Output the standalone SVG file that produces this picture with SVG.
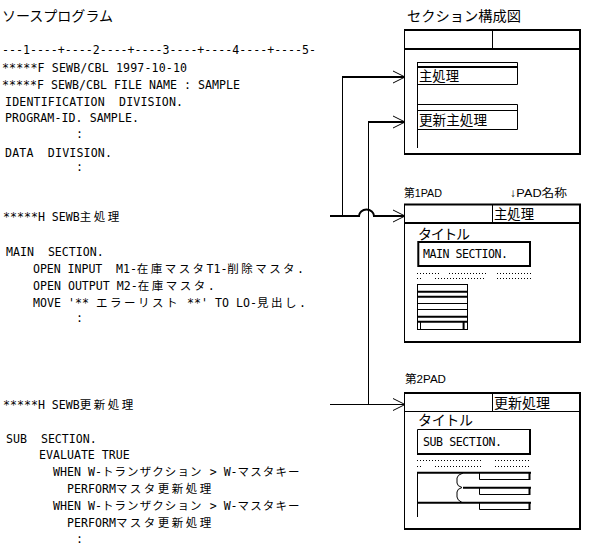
<svg xmlns="http://www.w3.org/2000/svg" width="597" height="559" viewBox="0 0 597 559">
<style>
text{font-family:"DejaVu Sans Mono","Noto Sans CJK JP",monospace;fill:#000;white-space:pre}
.c{font-size:11.6px}
.j{font-family:"Noto Sans CJK JP",sans-serif;font-size:11.5px;letter-spacing:2.5px}
.j2{font-family:"Noto Sans CJK JP",sans-serif;font-size:11.5px;letter-spacing:1.1px}
.t{font-family:"Noto Sans CJK JP",sans-serif;font-size:14px}
.s{font-family:"Liberation Sans","Noto Sans CJK JP",sans-serif;font-size:11.5px}
.ln{stroke:#000;fill:none;stroke-width:1}
.tk{stroke:#000;fill:none;stroke-width:2}
.dot{stroke:#000;stroke-width:1;stroke-dasharray:1 2;fill:none}
</style>
<defs>
<marker id="arr" markerUnits="userSpaceOnUse" markerWidth="14" markerHeight="14" viewBox="0 0 14 14" refX="12.5" refY="7" orient="auto">
<path d="M0.5,1 L12.5,7 L0.5,13" fill="none" stroke="#000" stroke-width="1"/>
</marker>
</defs>
<rect width="597" height="559" fill="#fff"/>

<g id="source-program">
<text class="t" x="2" y="21" textLength="111" lengthAdjust="spacingAndGlyphs">ソースプログラム</text>
<text class="c" x="2" y="54" textLength="314" lengthAdjust="spacing">---1----+----2----+----3----+----4----+----5-</text>
<text class="c" x="2" y="72" textLength="185" lengthAdjust="spacing">*****F SEWB/CBL 1997-10-10</text>
<text class="c" x="2" y="89" textLength="238" lengthAdjust="spacing">*****F SEWB/CBL FILE NAME : SAMPLE</text>
<text class="c" x="5" y="106" textLength="178" lengthAdjust="spacing">IDENTIFICATION  DIVISION.</text>
<text class="c" x="5" y="122" textLength="134" lengthAdjust="spacing">PROGRAM-ID. SAMPLE.</text>
<text class="c" x="76" y="138">:</text>
<text class="c" x="5" y="157" textLength="107" lengthAdjust="spacing">DATA  DIVISION.</text>
<text class="c" x="76" y="171">:</text>
</g>

<g id="src-main">
<text class="c" x="3" y="221">*****H SEWB<tspan class="j">主処理</tspan></text>
<text class="c" x="6" y="256">MAIN  SECTION.</text>
<text class="c" x="33" y="273" textLength="271" lengthAdjust="spacing">OPEN INPUT  M1-<tspan class="j">在庫マスタ</tspan>T1-<tspan class="j">削除マスタ</tspan>.</text>
<text class="c" x="33" y="290">OPEN OUTPUT M2-<tspan class="j">在庫マスタ</tspan>.</text>
<text class="c" x="33" y="307" textLength="273" lengthAdjust="spacing">MOVE '** <tspan class="j">エラーリスト</tspan> **' TO LO-<tspan class="j">見出し</tspan>.</text>
<text class="c" x="76" y="322">:</text>
</g>

<g id="src-sub">
<text class="c" x="3" y="409">*****H SEWB<tspan class="j">更新処理</tspan></text>
<text class="c" x="6" y="443">SUB  SECTION.</text>
<text class="c" x="39" y="459">EVALUATE TRUE</text>
<text class="c" x="53" y="476">WHEN W-<tspan class="j2">トランザクション</tspan> &gt; W-<tspan class="j2">マスタキー</tspan></text>
<text class="c" x="67" y="493">PERFORM<tspan class="j">マスタ更新処理</tspan></text>
<text class="c" x="53" y="510">WHEN W-<tspan class="j2">トランザクション</tspan> &gt; W-<tspan class="j2">マスタキー</tspan></text>
<text class="c" x="67" y="527">PERFORM<tspan class="j">マスタ更新処理</tspan></text>
<text class="c" x="76" y="543">:</text>
</g>

<g id="section-diagram">
<text class="t" x="407" y="21" textLength="114" lengthAdjust="spacingAndGlyphs">セクション構成図</text>
<path class="ln" d="M404.5,29 V154"/>
<path class="tk" d="M404,30 H581 M580,29 V155 M404,154 H581 M404,49 H580"/>
<path class="ln" d="M492.5,30 V49"/>
<path class="ln" d="M417.5,62 V148"/>
<path class="ln" d="M417,62.5 H517.5 V84.5 H417"/>
<path class="tk" d="M417,67 H518"/>
<text class="t" x="419" y="81" textLength="40" lengthAdjust="spacingAndGlyphs">主処理</text>
<path class="ln" d="M417,104.5 H517.5 V129.5 H417 M417,110.5 H517.5"/>
<text class="t" x="419" y="125" textLength="68" lengthAdjust="spacingAndGlyphs">更新主処理</text>
</g>

<g id="pad1">
<text class="s" x="404" y="197" textLength="38" lengthAdjust="spacingAndGlyphs">第1PAD</text>
<text class="s" x="510" y="197" textLength="57" lengthAdjust="spacingAndGlyphs">↓PAD名称</text>
<path class="ln" d="M404.5,204 V342"/>
<path class="tk" d="M404,204.5 H581 M580,204 V343 M404,342 H581 M404,223 H580"/>
<path class="ln" d="M492.5,205 V223"/>
<text class="t" x="494" y="219" textLength="40" lengthAdjust="spacingAndGlyphs">主処理</text>
<text class="t" x="418" y="239" textLength="52" lengthAdjust="spacing">タイトル</text>
<rect class="tk" x="418.3" y="242" width="111.7" height="24"/>
<text class="c" x="423" y="258" textLength="85" lengthAdjust="spacing">MAIN SECTION.</text>
<path class="dot" d="M417,273.5 H439 M449,273.5 H486 M497,273.5 H531"/>
<path class="dot" d="M417,278.5 H422 M435,278.5 H486 M497,278.5 H531"/>
<path class="ln" d="M417.5,284 V330 M467.5,284 V330 M417,284.5 H468 M417,303.5 H468 M417,309.5 H468 M417,329.5 H468 M420.5,322 V329"/>
<path class="tk" d="M417,291.7 H468 M417,296.7 H468 M417,316.7 H468 M417,321.7 H468 M463.6,322 V329"/>
</g>

<g id="pad2">
<text class="s" x="405" y="383" textLength="41" lengthAdjust="spacingAndGlyphs">第2PAD</text>
<path class="ln" d="M404.5,392 V529 M404,411.5 H580"/>
<path class="tk" d="M404,393 H581 M580,392 V530 M404,529 H581"/>
<path class="ln" d="M492.5,393 V411"/>
<text class="t" x="494" y="408" textLength="56" lengthAdjust="spacingAndGlyphs">更新処理</text>
<text class="t" x="418" y="425" textLength="55" lengthAdjust="spacing">タイトル</text>
<path class="ln" d="M417.5,454 V429.5 H530"/>
<path class="tk" d="M530,429 V455 M417,454 H531"/>
<text class="c" x="423" y="446" textLength="79" lengthAdjust="spacing">SUB SECTION.</text>
<path class="dot" d="M417,460.5 H482 M495,460.5 H531"/>
<path class="dot" d="M417,466.5 H422 M435,466.5 H482 M495,466.5 H531"/>
<path class="ln" d="M417.5,472 V517"/>
<path class="tk" d="M417,472.7 H531 M463,487.7 H531 M417,502.7 H531 M529.5,472 V480 M529.5,487 V495 M529.5,502 V510"/>
<path class="ln" d="M479.5,473 V479.5 H530 M479.5,488 V494.5 H530 M479.5,503 V509.5 H530"/>
<path class="ln" d="M463,473 Q457,475 457,478 V483 Q457,486 462,487.5 Q457,489 457,492 V497 Q457,500 462,502.5"/>
</g>

<g id="connectors">
<path class="tk" d="M330,216 H359 A7.5,6.5 0 0 1 374,216 H405" marker-end="url(#arr)"/>
<path class="ln" d="M342.5,216 V77"/>
<path class="tk" d="M342,77 H405" marker-end="url(#arr)"/>
<path class="ln" d="M330,404.5 H405" marker-end="url(#arr)"/>
<path class="ln" d="M368.5,404 V122"/>
<path class="tk" d="M368,122 H405" marker-end="url(#arr)"/>
</g>
</svg>
